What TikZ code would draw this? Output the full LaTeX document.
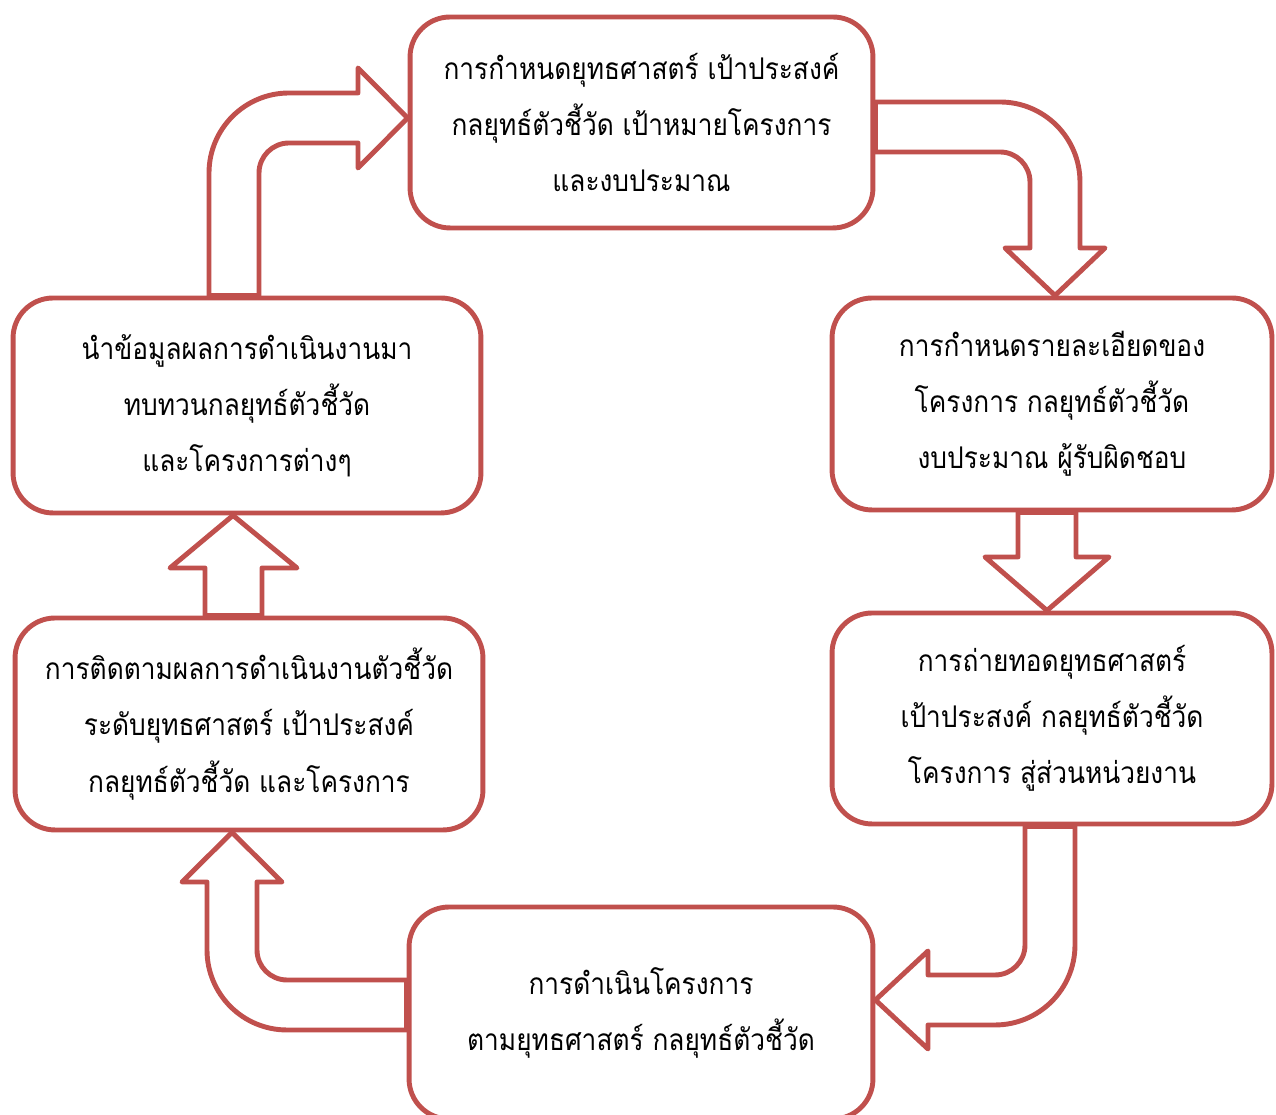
\documentclass[tikz,border=0pt]{standalone}
\usepackage{fontspec}
\newfontfamily\thaifont[Script=Thai, FakeStretch=0.88]{Loma}
\usetikzlibrary{calc}
\definecolor{cyclered}{HTML}{C0504D}

\begin{document}
\begin{tikzpicture}
[x=0.02cm, y=0.02cm, cyclered, text=black, line width=2.8pt, line join=round,
stage/.style = {rectangle, rounded corners=0.8cm, draw=cyclered, inner sep=0pt, align=center,
                minimum width=9.3cm, minimum height=4.24cm,
                font=\thaifont\fontsize{17}{32}\selectfont}]
\useasboundingbox (0,0) rectangle (1276,1115);

\node[stage, minimum width=9.26cm, minimum height=4.22cm] (plan) at (641.5,992.5)
  {การกำหนดยุทธศาสตร์ เป้าประสงค์\\กลยุทธ์ตัวชี้วัด เป้าหมายโครงการ\\และงบประมาณ};
\node[stage, minimum width=8.8cm] (detail) at (1052,711)
  {การกำหนดรายละเอียดของ\\โครงการ กลยุทธ์ตัวชี้วัด\\งบประมาณ ผู้รับผิดชอบ};
\node[stage, minimum width=8.8cm, minimum height=4.22cm] (deploy) at (1052,396.5)
  {การถ่ายทอดยุทธศาสตร์\\เป้าประสงค์ กลยุทธ์ตัวชี้วัด\\โครงการ สู่ส่วนหน่วยงาน};
\node[stage, minimum width=9.28cm] (execute) at (641,102)
  {การดำเนินโครงการ\\ตามยุทธศาสตร์ กลยุทธ์ตัวชี้วัด};
\node[stage, minimum width=9.36cm] (monitor) at (249,391)
  {การติดตามผลการดำเนินงานตัวชี้วัด\\ระดับยุทธศาสตร์ เป้าประสงค์\\กลยุทธ์ตัวชี้วัด และโครงการ};
\node[stage, minimum width=9.36cm, minimum height=4.3cm] (review) at (247,709.5)
  {นำข้อมูลผลการดำเนินงานมา\\ทบทวนกลยุทธ์ตัวชี้วัด\\และโครงการต่างๆ};

% hollow block arrows round the cycle
\draw (review.north -| 209,0) -- (209,942) arc[start angle=180, end angle=90, radius=80]
  -- (358,1022) -- (358,1047) -- (plan.west |- 0,997) -- (358,947) -- (358,972)
  -- (289,972) arc[start angle=90, end angle=180, radius=30] -- (review.north -| 259,0) -- cycle;
\draw (plan.east |- 0,1013) -- (1000,1013) arc[start angle=90, end angle=0, radius=80]
  -- (1080,867) -- (1105,867) -- (detail.north -| 1055,0) -- (1005,867) -- (1030,867)
  -- (1030,933) arc[start angle=0, end angle=90, radius=30] -- (plan.east |- 0,963) -- cycle;
\draw (detail.south -| 1018,0) -- (1018,558) -- (985,558) -- (deploy.north -| 1047,0)
  -- (1109,558) -- (1076,558) -- (detail.south -| 1076,0) -- cycle;
\draw (deploy.south -| 1075,0) -- (1075,170) arc[start angle=0, end angle=-90, radius=80]
  -- (928,90) -- (928,66) -- (execute.east |- 0,115) -- (928,164) -- (928,140)
  -- (995,140) arc[start angle=-90, end angle=0, radius=30] -- (deploy.south -| 1025,0) -- cycle;
\draw (execute.west |- 0,85) -- (287,85) arc[start angle=-90, end angle=-180, radius=80]
  -- (207,233) -- (182,233) -- (monitor.south -| 232,0) -- (282,233) -- (257,233)
  -- (257,165) arc[start angle=180, end angle=270, radius=30] -- (execute.west |- 0,135) -- cycle;
\draw (monitor.north -| 205,0) -- (205,547) -- (170,547) -- (review.south -| 233,0)
  -- (297,547) -- (262,547) -- (monitor.north -| 262,0) -- cycle;
\end{tikzpicture}
\end{document}
